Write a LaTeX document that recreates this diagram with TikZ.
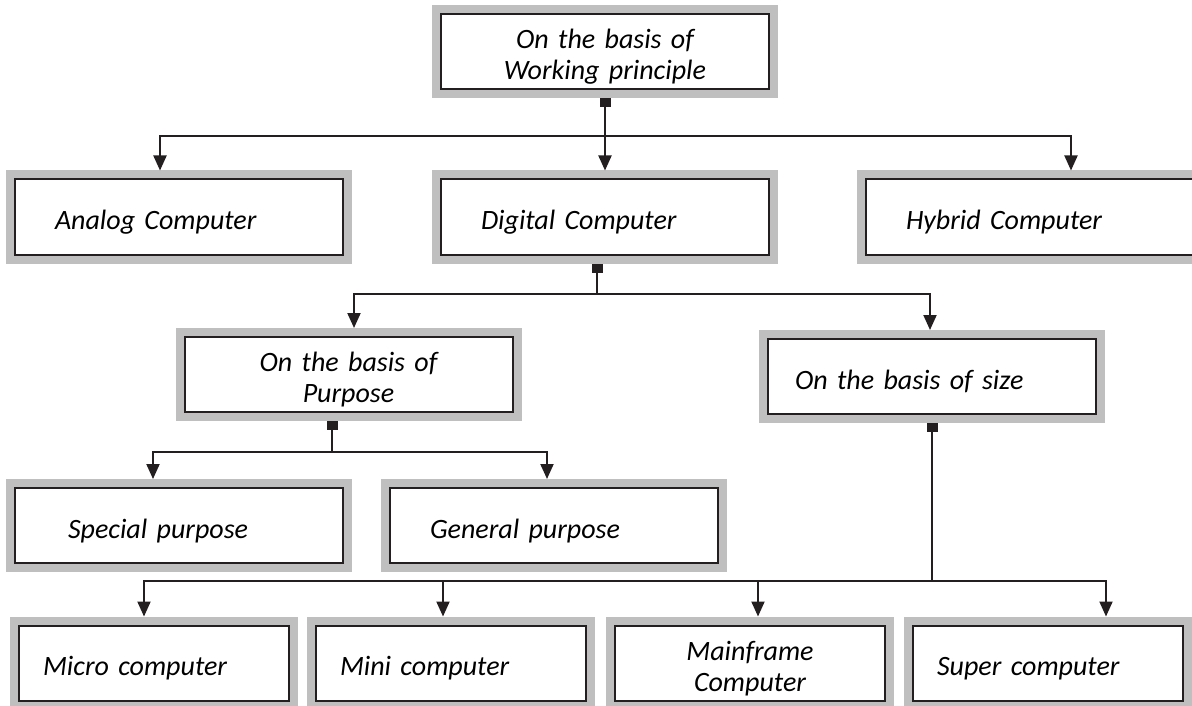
\documentclass[tikz,border=0pt]{standalone}
\usepackage{fontspec}
\setmainfont{Carlito}
\usepackage{tikz}
\usetikzlibrary{arrows.meta,positioning}
\definecolor{FrameGrey}{HTML}{BFBFBF}
\definecolor{Ink}{HTML}{231F20}

\begin{document}
\begin{tikzpicture}[
		x=1pt,y=-1pt,
		st/.style={draw=Ink,line width=2pt,fill=white,preaction={draw=FrameGrey,line width=18pt},outer sep=9pt,minimum height=75pt,inner ysep=4pt,text height=27pt,text depth=2pt,font=\fontsize{28}{31}\selectfont\itshape,align=left},
		wide/.style={st,text width=248pt,inner xsep=40pt},
		narrow/.style={st,text width=222pt,inner xsep=24pt},
		two/.style={align=center,text depth=33pt},
		arr/.style={-{Triangle[length=15pt,width=13pt]},line width=2pt,Ink},
		lead/.style={arrows={Square[length=9pt,width=11pt]-},line width=2pt,Ink}
	]
	\useasboundingbox (0,0) rectangle (1192,706);
	\node[wide,two] (wp) at (605,51.5) {On the basis of\\Working principle};
	\node[wide] (an) at (179,217) {Analog Computer};
	\node[wide,right=80pt of an] (dg) {Digital Computer};
	\node[wide,right=79pt of dg] (hy) {Hybrid Computer};
	\node[wide,two] (pu) at (348.5,374.5) {On the basis of\\Purpose};
	\node[wide,text width=274pt,inner xsep=27pt] (sz) at (932,376.5) {On the basis of size};
	\node[wide,text width=222pt,inner xsep=53pt] (sp) at (179,525.5) {Special purpose};
	\node[wide,right=29pt of sp] (gp) {General purpose};
	\node[narrow] (mi) at (154,663) {Micro computer};
	\node[narrow,right=9pt of mi] (mn) {Mini computer};
	\node[narrow,two,right=11pt of mn] (mf) {Mainframe\\Computer};
	\node[narrow,right=10pt of mf] (su) {Super computer};
	\draw[lead] (wp.south) -- ++(0,38) coordinate (j1);
	\draw[arr] (j1) -| ([xshift=-19pt]an.north);
	\draw[arr] (j1) -- (dg.north);
	\draw[arr] (j1) -| ([xshift=41pt]hy.north);
	\draw[lead] ([xshift=-8pt]dg.south) -- ++(0,30) coordinate (j2);
	\draw[arr] (j2) -| ([xshift=5.5pt]pu.north);
	\draw[arr] (j2) -| ([xshift=-2pt]sz.north);
	\draw[lead] ([xshift=-16.5pt]pu.south) -- ++(0,31) coordinate (j3);
	\draw[arr] (j3) -| ([xshift=-26pt]sp.north);
	\draw[arr] (j3) -| ([xshift=-7pt]gp.north);
	\draw[lead] (sz.south) -- ++(0,158) coordinate (j4);
	\draw[arr] (j4) -| ([xshift=-10pt]mi.north);
	\draw[arr] (j4) -| ([xshift=-8pt]mn.north);
	\draw[arr] (j4) -| ([xshift=8pt]mf.north);
	\draw[arr] (j4) -| ([xshift=58pt]su.north);
\end{tikzpicture}
\end{document}
